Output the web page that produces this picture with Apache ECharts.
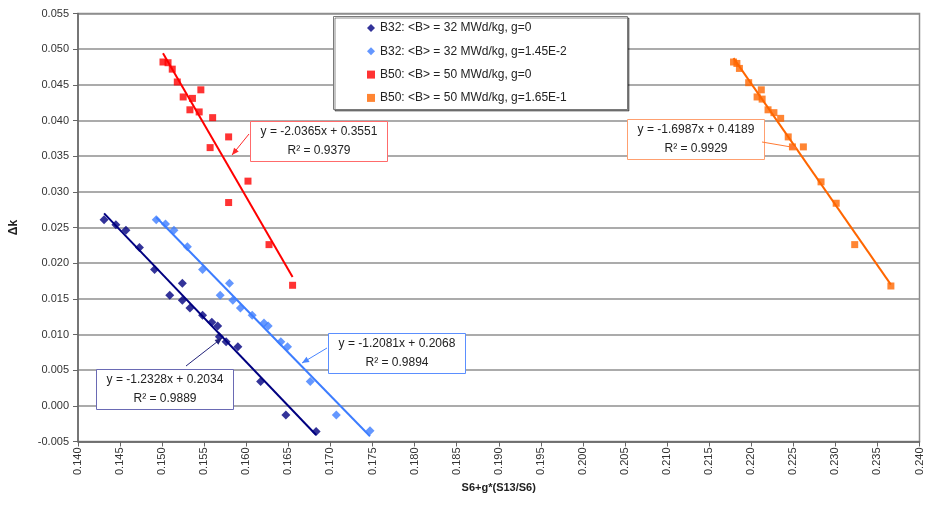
<!DOCTYPE html>
<html><head><meta charset="utf-8">
<script src="https://cdn.jsdelivr.net/npm/echarts@6/dist/echarts.min.js"></script>
<style>html,body{margin:0;padding:0;background:#fff}#c{width:925px;height:506px}</style>
</head><body><div id="c"></div>
<script>
// ---- data ----
const seriesNames = [
  'B32: <B> = 32 MWd/kg, g=0',
  'B32: <B> = 32 MWd/kg, g=1.45E-2',
  'B50: <B> = 50 MWd/kg, g=0',
  'B50: <B> = 50 MWd/kg, g=1.65E-1'
];
const b32g0X = [0.1431,0.1445,0.1457,0.1473,0.1491,0.1509,0.1524,0.1524,0.1533,0.1548,0.1559,0.1566,0.1568,0.1576,0.1590,0.1617,0.1647,0.1683];
const b32g0Y = [0.0261,0.0254,0.0246,0.0222,0.0191,0.0155,0.0172,0.0148,0.0137,0.0127,0.0117,0.0112,0.0097,0.0090,0.0083,0.0034,-0.0013,-0.0036];
const b32gX = [0.1493,0.1504,0.1514,0.1530,0.1548,0.1569,0.1580,0.1584,0.1593,0.1607,0.1621,0.1626,0.1641,0.1649,0.1676,0.1707,0.1747];
const b32gY = [0.0261,0.0255,0.0246,0.0223,0.0191,0.0155,0.0172,0.0148,0.0137,0.0127,0.0116,0.0112,0.0090,0.0083,0.0034,-0.0013,-0.0035];
const b50g0X = [0.1501,0.1507,0.1512,0.1518,0.1525,0.1536,0.1546,0.1533,0.1544,0.1560,0.1579,0.1557,0.1602,0.1579,0.1627,0.1655];
const b50g0Y = [0.0482,0.0481,0.0472,0.0454,0.0433,0.0431,0.0443,0.0415,0.0412,0.0404,0.0377,0.0362,0.0315,0.0285,0.0226,0.0169];
const b50gX = [0.2179,0.2183,0.2186,0.2197,0.2212,0.2207,0.2213,0.2220,0.2227,0.2235,0.2244,0.2249,0.2262,0.2283,0.2301,0.2323,0.2366];
const b50gY = [0.0482,0.0480,0.0473,0.0453,0.0443,0.0433,0.0430,0.0415,0.0411,0.0403,0.0377,0.0363,0.0363,0.0314,0.0284,0.0226,0.0168];
const trendSlopes = [-1.2328, -1.2081, -2.0365, -1.6987];
const trendIntercepts = [0.2034, 0.2068, 0.3551, 0.4189];
const trendR2 = ['0.9889', '0.9894', '0.9379', '0.9929'];
const xAxisTitle = 'S6+g*(S13/S6)';
const yAxisTitle = 'Δk';

// ---- styles ----
const colors = ['#000080', '#3d7dff', '#ff0000', '#ff6600'];
const symbols = ['diamond', 'diamond', 'rect', 'rect'];
const symbolSizes = [9, 9, 7, 7];
const boxBorder = ['#6a6ab4', '#5b8fff', '#ff6b6b', '#ffa070'];
const arrowColor = ['#23237a', '#4a86ff', '#ff2a2a', '#ff7a33'];
// annotation layout (pixels): box left, top ; arrow start, end
const boxes = [
  {x: 96, y: 369, ax1: 186, ay1: 366, ax2: 222, ay2: 338},
  {x: 328, y: 333, ax1: 327, ay1: 348, ax2: 302, ay2: 363},
  {x: 250, y: 121, ax1: 249, ay1: 134, ax2: 232, ay2: 155},
  {x: 627, y: 119, ax1: 762, ay1: 142, ax2: 797, ay2: 148}
];

const xs = [b32g0X, b32gX, b50g0X, b50gX];
const ys = [b32g0Y, b32gY, b50g0Y, b50gY];

const series = [];
for (let i = 0; i < 4; i++) {
  const lo = Math.min(...xs[i]), hi = Math.max(...xs[i]);
  series.push({
    name: seriesNames[i] + ' trend',
    type: 'line',
    data: [[lo, trendSlopes[i] * lo + trendIntercepts[i]], [hi, trendSlopes[i] * hi + trendIntercepts[i]]],
    symbol: 'none',
    lineStyle: {color: colors[i], width: 2},
    z: 2,
    silent: true
  });
}
for (let i = 0; i < 4; i++) {
  series.push({
    name: seriesNames[i],
    type: 'scatter',
    data: xs[i].map((x, k) => [x, ys[i][k]]),
    symbol: symbols[i],
    symbolSize: symbolSizes[i],
    itemStyle: {color: colors[i]},
    z: 3
  });
}

const graphic = [];
// legend frame
graphic.push({type: 'rect', z: 50, shape: {x: 333.5, y: 16.5, width: 294, height: 93},
  style: {fill: '#fff', stroke: '#7a7a7a', lineWidth: 1, shadowColor: 'rgba(0,0,0,0.45)', shadowOffsetX: 1.5, shadowOffsetY: 1.5, shadowBlur: 0}});
for (let i = 0; i < 4; i++) {
  const b = boxes[i];
  graphic.push({type: 'rect', z: 50, shape: {x: b.x + 0.5, y: b.y + 0.5, width: 137, height: 40},
    style: {fill: '#fff', stroke: boxBorder[i], lineWidth: 1}});
  graphic.push({type: 'text', z: 51, x: b.x + 69, y: b.y + 10.5,
    style: {text: 'y = ' + trendSlopes[i].toFixed(4) + 'x + ' + trendIntercepts[i].toFixed(4), fill: '#222', font: '12px "Liberation Sans", Arial, sans-serif', align: 'center', verticalAlign: 'middle'}});
  graphic.push({type: 'text', z: 51, x: b.x + 69, y: b.y + 29.5,
    style: {text: 'R² = ' + trendR2[i], fill: '#222', font: '12px "Liberation Sans", Arial, sans-serif', align: 'center', verticalAlign: 'middle'}});
  // arrow
  graphic.push({type: 'line', z: 52, shape: {x1: b.ax1, y1: b.ay1, x2: b.ax2, y2: b.ay2},
    style: {stroke: arrowColor[i], lineWidth: 1}});
  const dx = b.ax2 - b.ax1, dy = b.ay2 - b.ay1, L = Math.hypot(dx, dy);
  const ux = dx / L, uy = dy / L, hl = 7, hw = 3;
  const bx = b.ax2 - ux * hl, by = b.ay2 - uy * hl;
  graphic.push({type: 'polygon', z: 52, shape: {points: [[b.ax2, b.ay2], [bx - uy * hw, by + ux * hw], [bx + uy * hw, by - ux * hw]]},
    style: {fill: arrowColor[i]}});
}

const chart = echarts.init(document.getElementById('c'), null, {renderer: 'canvas'});
chart.setOption({
  animation: false,
  backgroundColor: '#fff',
  grid: {left: 78, right: 4, top: 13.5, bottom: 64.5, show: true, borderColor: '#8a8a8a', borderWidth: 1.5, backgroundColor: 'transparent'},
  legend: {
    data: seriesNames,
    orient: 'vertical',
    left: 367, top: 21,
    padding: 0,
    itemWidth: 8, itemHeight: 8, itemGap: 9.3,
    z: 60,
    textStyle: {fontFamily: '"Liberation Sans", Arial, sans-serif', fontSize: 12, color: '#222', lineHeight: 14}
  },
  xAxis: {
    type: 'value', min: 0.14, max: 0.24, interval: 0.005,
    name: xAxisTitle, nameLocation: 'middle', nameGap: 40,
    nameTextStyle: {fontFamily: '"Liberation Sans", Arial, sans-serif', fontSize: 11, fontWeight: 'bold', color: '#222'},
    axisLine: {onZero: false, lineStyle: {color: '#666', width: 1.5}},
    axisTick: {show: true, length: 5, lineStyle: {color: '#666'}},
    axisLabel: {rotate: 90, margin: 6, formatter: v => v.toFixed(3), fontFamily: '"Liberation Sans", Arial, sans-serif', fontSize: 11, color: '#333'},
    splitLine: {show: false}
  },
  yAxis: {
    type: 'value', min: -0.005, max: 0.055, interval: 0.005,
    name: yAxisTitle, nameLocation: 'middle', nameGap: 58, nameRotate: 90,
    nameTextStyle: {fontFamily: '"Liberation Sans", Arial, sans-serif', fontSize: 12, fontWeight: 'bold', color: '#222'},
    axisLine: {onZero: false, lineStyle: {color: '#666', width: 1.5}},
    axisTick: {show: true, length: 5, lineStyle: {color: '#666'}},
    axisLabel: {margin: 9, formatter: v => v.toFixed(3), fontFamily: '"Liberation Sans", Arial, sans-serif', fontSize: 11, color: '#333'},
    splitLine: {show: true, lineStyle: {color: '#8f8f8f', width: 1.5}}
  },
  series: series,
  graphic: graphic
});
</script>
</body></html>
